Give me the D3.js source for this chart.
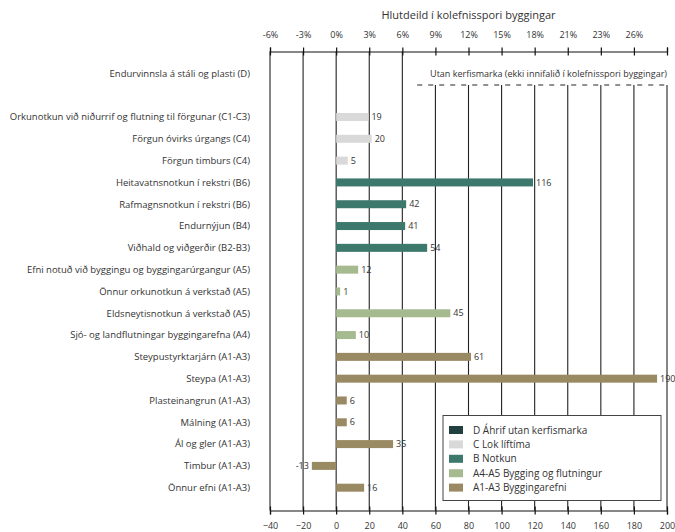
<!DOCTYPE html>
<html lang="is">
<head>
  <meta charset="utf-8">
  <title>Hlutdeild í kolefnisspori byggingar</title>
  <script src="https://cdn.jsdelivr.net/npm/d3@7"></script>
  <style>
    * { box-sizing: border-box; margin: 0; padding: 0; }
    html, body { width: 675px; height: 532px; background: #fff; overflow: hidden; }
    body { font-family: "Open Sans", Lato, sans-serif; }
    #chart text { fill: #333; }
  </style>
</head>
<body>
  <svg id="chart" width="675" height="532"></svg>

  <script>
  // rows top to bottom ("" is the empty slot under the D row)
  const categories = [
    "Endurvinnsla á stáli og plasti (D)",
    "",
    "Orkunotkun við niðurrif og flutning til förgunar (C1-C3)",
    "Förgun óvirks úrgangs (C4)",
    "Förgun timburs (C4)",
    "Heitavatnsnotkun í rekstri (B6)",
    "Rafmagnsnotkun í rekstri (B6)",
    "Endurnýjun (B4)",
    "Viðhald og viðgerðir (B2-B3)",
    "Efni notuð við byggingu og byggingarúrgangur (A5)",
    "Önnur orkunotkun á verkstað (A5)",
    "Eldsneytisnotkun á verkstað (A5)",
    "Sjó- og landflutningar byggingarefna (A4)",
    "Steypustyrktarjárn (A1-A3)",
    "Steypa (A1-A3)",
    "Plasteinangrun (A1-A3)",
    "Málning (A1-A3)",
    "Ál og gler (A1-A3)",
    "Timbur (A1-A3)",
    "Önnur efni (A1-A3)"
  ];
  const groups = ["D","","C","C","C","B","B","B","B","A45","A45","A45","A45",
                  "A13","A13","A13","A13","A13","A13","A13"];
  // bar lengths as drawn
  const barValues = [null, null, 19.5, 21.5, 7, 119, 42.3, 41.7, 55, 13.3, 2.4, 69, 11.9,
                     81.5, 194, 6.4, 6.4, 34.4, -14.7, 16.9];
  // numbers printed next to bars
  const valueLabels = ["", "", "19", "20", "5", "116", "42", "41", "54", "12", "1", "45", "10",
                       "61", "190", "6", "6", "35", "-13", "16"];

  const bottomTicks = [-40, -20, 0, 20, 40, 60, 80, 100, 120, 140, 160, 180, 200];
  const topTickLabels = ["-6%", "-3%", "0%", "3%", "6%", "9%", "12%", "15%", "18%",
                         "21%", "23%", "26%", ""];

  const legendKeys = ["D", "C", "B", "A45", "A13"];
  const legendLabels = ["D Áhrif utan kerfismarka", "C Lok líftíma", "B Notkun",
                        "A4-A5 Bygging og flutningur", "A1-A3 Byggingarefni"];
  const palette = { D: "#22403f", C: "#d9d9d9", B: "#3d786d", A45: "#a6ba90", A13: "#9a8a64" };

  const title = "Hlutdeild í kolefnisspori byggingar";
  const outsideNote = "Utan kerfismarka (ekki innifalið í kolefnisspori byggingar)";

  const svg = d3.select("#chart");
  const topY = 51.5, bottomY = 510.5, dashY = 85;
  const font = "\"Open Sans\", sans-serif";

  const x = d3.scaleLinear().domain([-40, 200]).range([270, 667]);
  const y = d3.scalePoint().domain(d3.range(categories.length)).range([73.4, 487.7]);
  const barH = 8;

  // gridlines; right of the 40 line they start below the dashed boundary
  svg.append("g").selectAll("line")
    .data(bottomTicks)
    .join("line")
      .attr("x1", d => x(d)).attr("x2", d => x(d))
      .attr("y1", d => d <= 40 ? topY : dashY)
      .attr("y2", bottomY)
      .attr("stroke", "#222").attr("stroke-width", 1.1);

  svg.append("line")
    .attr("x1", x(49)).attr("x2", x(200))
    .attr("y1", dashY).attr("y2", dashY)
    .attr("stroke", "#222").attr("stroke-dasharray", "5,6");

  svg.append("text")
    .attr("x", x(200)).attr("y", 76.5)
    .attr("text-anchor", "end")
    .style("font-size", "9px")
    .text(outsideNote);

  // axes
  const bottomAxis = svg.append("g")
    .attr("transform", `translate(0,${bottomY})`)
    .call(d3.axisBottom(x).tickValues(bottomTicks).tickSize(4).tickPadding(8));
  const topAxis = svg.append("g")
    .attr("transform", `translate(0,${topY})`)
    .call(d3.axisTop(x).tickValues(bottomTicks).tickSize(4).tickPadding(10)
      .tickFormat((d, i) => topTickLabels[i]));

  [bottomAxis, topAxis].forEach(g => {
    g.select(".domain").attr("stroke", "#111").attr("stroke-width", 1.2);
    g.selectAll(".tick line").attr("y1", -4).attr("y2", 4).attr("stroke", "#111").attr("stroke-width", 1.2);
    g.selectAll(".tick text").style("font-size", "9px").style("font-family", font).attr("fill", "#333");
  });

  svg.append("text")
    .attr("x", (x(-40) + x(200)) / 2).attr("y", 19)
    .attr("text-anchor", "middle")
    .style("font-size", "11px")
    .text(title);

  // category labels
  svg.append("g").selectAll("text")
    .data(categories)
    .join("text")
      .attr("x", 250)
      .attr("y", (d, i) => y(i))
      .attr("dy", "0.35em")
      .attr("text-anchor", "end")
      .style("font-size", "9.5px")
      .text(d => d);

  const rows = categories.map((c, i) => ({ i, v: barValues[i], g: groups[i], label: valueLabels[i] }))
    .filter(d => d.v !== null);

  svg.append("g").selectAll("rect")
    .data(rows)
    .join("rect")
      .attr("x", d => x(Math.min(0, d.v)))
      .attr("width", d => Math.abs(x(d.v) - x(0)))
      .attr("y", d => y(d.i) - barH / 2)
      .attr("height", barH)
      .attr("fill", d => palette[d.g]);

  svg.append("g").selectAll("text")
    .data(rows)
    .join("text")
      .attr("x", d => d.v < 0 ? x(d.v) - 3 : x(d.v) + 3)
      .attr("y", d => y(d.i))
      .attr("dy", "0.35em")
      .attr("text-anchor", d => d.v < 0 ? "end" : "start")
      .style("font-size", "9px")
      .text(d => d.label);

  // legend
  const lg = svg.append("g").attr("transform", "translate(443,415.5)");
  lg.append("rect")
    .attr("width", 218).attr("height", 85)
    .attr("fill", "#fff").attr("stroke", "#444").attr("stroke-width", 1);
  const item = lg.selectAll("g")
    .data(legendKeys)
    .join("g")
      .attr("transform", (d, i) => `translate(6,${14.5 + i * 14.4})`);
  item.append("rect")
    .attr("y", -4).attr("width", 14).attr("height", 8)
    .attr("fill", d => palette[d]);
  item.append("text")
    .attr("x", 24).attr("dy", "0.35em")
    .style("font-size", "10px")
    .text((d, i) => legendLabels[i]);
  </script>
</body>
</html>
